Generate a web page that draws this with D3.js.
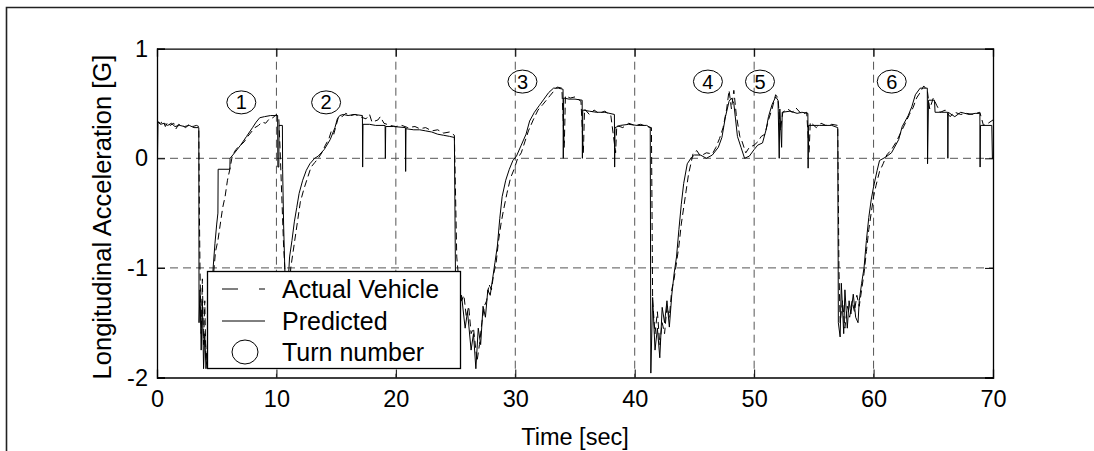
<!DOCTYPE html>
<html><head><meta charset="utf-8">
<script src="https://cdn.jsdelivr.net/npm/d3@7"></script>
<style>body{margin:0;background:#fff}svg text{font-family:"Liberation Sans",Arial,sans-serif;fill:#000}</style>
</head><body><svg id="c" width="1094" height="451"></svg>
<script>
const xTicks=[0,10,20,30,40,50,60,70];
const yTicks=[-2,-1,0,1];
const xGrid=[10,20,30,40,50,60];
const yGrid=[-1,0];
const predicted=[[0,0.38],[0.03,-0.08],[0.08,0.33],[0.3,0.31],[0.6,0.32],[0.9,0.30],[1.2,0.32],[1.5,0.29],[1.9,0.30],[2.3,0.29],[2.7,0.30],[3.1,0.28],[3.5,0.28],[3.52,-1.5],[3.6,-1.2],[3.7,-1.75],[3.8,-1.3],[3.9,-1.92],[4.0,-1.6],[4.1,-1.92],[4.3,-1.7],[4.5,-1.4],[4.7,-1.0],[4.85,-0.78],[5.0,-0.6],[5.1,-0.5],[5.12,-0.1],[6.1,-0.1],[6.12,0.0],[6.5,0.05],[7.0,0.12],[7.5,0.2],[8.0,0.28],[8.3,0.33],[8.6,0.37],[9.0,0.38],[9.5,0.39],[10.1,0.39],[10.12,-0.08],[10.2,-0.08],[10.22,0.3],[10.5,0.3],[10.52,-0.1],[10.6,-0.6],[10.7,-1.0],[10.8,-1.3],[10.9,-1.5],[11.0,-1.1],[11.1,-0.9],[11.3,-0.75],[11.5,-0.58],[11.7,-0.45],[11.9,-0.32],[12.2,-0.2],[12.5,-0.11],[12.8,-0.05],[13.2,0.0],[13.5,0.02],[14.0,0.08],[14.5,0.17],[14.9,0.28],[15.1,0.36],[15.3,0.39],[15.6,0.4],[16.0,0.39],[16.5,0.4],[17.2,0.39],[17.22,-0.08],[17.25,0.31],[17.8,0.31],[18.3,0.3],[19.1,0.3],[19.12,0.0],[19.15,0.29],[19.8,0.29],[20.8,0.28],[20.82,-0.12],[20.85,0.27],[21.5,0.26],[22.0,0.26],[22.5,0.25],[23.0,0.24],[23.5,0.22],[24.0,0.21],[24.5,0.2],[24.9,0.19],[25.0,-1.2],[25.3,-1.4],[25.5,-1.25],[25.8,-1.55],[26.0,-1.4],[26.3,-1.75],[26.5,-1.6],[26.7,-1.92],[26.9,-1.55],[27.1,-1.7],[27.3,-1.35],[27.5,-1.45],[27.7,-1.2],[27.9,-1.25],[28.1,-1.1],[28.3,-0.95],[28.5,-0.8],[28.7,-0.55],[28.9,-0.35],[29.2,-0.2],[29.5,-0.1],[29.8,-0.02],[30.1,0.02],[30.5,0.12],[30.9,0.22],[31.2,0.34],[31.6,0.42],[32.0,0.48],[32.4,0.54],[32.8,0.6],[33.2,0.64],[33.6,0.64],[34.0,0.63],[34.02,0.0],[34.05,0.55],[34.5,0.54],[35.0,0.54],[35.6,0.53],[35.62,0.0],[35.65,0.44],[36.2,0.43],[36.8,0.42],[37.5,0.42],[38.3,0.4],[38.32,-0.08],[38.35,0.28],[38.8,0.3],[39.5,0.31],[40.2,0.3],[41.0,0.3],[41.3,0.28],[41.35,-1.96],[41.5,-1.27],[41.7,-1.75],[41.9,-1.55],[42.1,-1.82],[42.3,-1.36],[42.5,-1.5],[42.7,-1.3],[42.9,-1.54],[43.1,-1.25],[43.3,-1.05],[43.5,-0.9],[43.7,-0.65],[43.9,-0.42],[44.1,-0.23],[44.4,-0.05],[44.7,0.0],[45.0,0.03],[45.5,0.03],[46.0,0.0],[46.5,0.03],[47.0,0.1],[47.3,0.19],[47.6,0.38],[47.9,0.52],[48.1,0.55],[48.3,0.5],[48.6,0.2],[48.9,0.1],[49.2,0.0],[49.6,0.02],[50.0,0.08],[50.3,0.12],[50.7,0.14],[51.0,0.26],[51.2,0.38],[51.5,0.49],[51.8,0.56],[52.0,0.53],[52.1,0.0],[52.15,0.45],[52.3,0.1],[52.35,0.42],[53.0,0.43],[53.6,0.41],[54.0,0.42],[54.5,0.41],[54.52,-0.09],[54.55,0.3],[55.5,0.3],[56.5,0.3],[57.0,0.28],[57.05,-1.5],[57.2,-1.63],[57.3,-1.14],[57.5,-1.6],[57.6,-1.2],[57.8,-1.55],[57.95,-1.3],[58.1,-1.42],[58.3,-1.24],[58.5,-1.45],[58.7,-1.5],[58.8,-1.3],[59.0,-1.14],[59.2,-1.0],[59.4,-0.75],[59.6,-0.54],[59.8,-0.38],[60.0,-0.26],[60.3,-0.11],[60.5,-0.02],[61.0,0.01],[61.5,0.05],[62.1,0.17],[62.4,0.29],[62.9,0.39],[63.2,0.47],[63.5,0.58],[63.9,0.64],[64.2,0.64],[64.5,0.64],[64.52,-0.05],[64.6,0.53],[65.1,0.53],[65.15,0.42],[65.7,0.42],[66.2,0.42],[66.22,0.0],[66.25,0.42],[66.8,0.38],[67.3,0.42],[68.0,0.4],[68.5,0.41],[68.9,0.41],[68.92,-0.08],[68.95,0.3],[69.9,0.3],[69.95,0.0],[70.0,0.0]];
const actual=[[0,0.35],[0.1,0.33],[0.3,0.32],[0.5,0.34],[0.7,0.29],[0.9,0.33],[1.1,0.3],[1.4,0.32],[1.6,0.27],[1.8,0.31],[2.1,0.3],[2.4,0.28],[2.7,0.31],[3.0,0.29],[3.3,0.3],[3.5,0.29],[3.55,-0.5],[3.6,-1.0],[3.7,-1.6],[3.8,-1.1],[3.9,-1.7],[4.0,-1.3],[4.1,-1.85],[4.3,-1.6],[4.5,-1.3],[4.7,-1.1],[4.9,-0.85],[5.1,-0.75],[5.3,-0.6],[5.5,-0.45],[5.7,-0.35],[5.9,-0.2],[6.1,-0.1],[6.3,0.02],[6.6,0.08],[7.0,0.12],[7.3,0.15],[7.6,0.2],[7.9,0.24],[8.2,0.28],[8.5,0.3],[8.8,0.33],[9.1,0.32],[9.4,0.36],[9.7,0.37],[10.0,0.4],[10.2,0.36],[10.3,0.1],[10.45,-0.35],[10.6,-0.8],[10.8,-1.2],[11.0,-1.35],[11.2,-1.0],[11.4,-0.85],[11.6,-0.7],[11.8,-0.55],[12.0,-0.4],[12.3,-0.28],[12.6,-0.18],[12.9,-0.08],[13.2,-0.04],[13.5,0.0],[13.8,0.05],[14.1,0.12],[14.4,0.18],[14.6,0.25],[14.8,0.22],[15.0,0.3],[15.2,0.38],[15.5,0.38],[15.8,0.41],[16.2,0.39],[16.6,0.4],[17.0,0.38],[17.5,0.36],[17.8,0.4],[18.0,0.33],[18.5,0.35],[18.7,0.38],[19.0,0.32],[19.5,0.3],[20.0,0.29],[20.5,0.3],[21.0,0.28],[21.6,0.29],[22.0,0.27],[22.5,0.28],[23.0,0.25],[23.5,0.26],[24.0,0.23],[24.5,0.24],[24.9,0.21],[25.1,-0.9],[25.3,-1.15],[25.5,-1.3],[25.7,-1.25],[25.9,-1.45],[26.1,-1.35],[26.3,-1.6],[26.5,-1.55],[26.8,-1.85],[27.0,-1.7],[27.2,-1.5],[27.4,-1.35],[27.6,-1.3],[27.8,-1.15],[28.0,-1.2],[28.2,-1.05],[28.4,-0.95],[28.6,-0.75],[28.8,-0.6],[29.0,-0.48],[29.3,-0.32],[29.6,-0.18],[29.9,-0.1],[30.2,0.0],[30.5,0.05],[30.8,0.15],[31.1,0.25],[31.5,0.35],[31.9,0.44],[32.3,0.49],[32.6,0.53],[32.9,0.57],[33.2,0.61],[33.5,0.65],[33.9,0.64],[34.1,0.1],[34.2,0.57],[34.6,0.55],[35.0,0.56],[35.5,0.52],[35.7,0.05],[35.8,0.45],[36.2,0.4],[36.6,0.44],[37.0,0.41],[37.5,0.43],[38.0,0.39],[38.4,0.05],[38.5,0.3],[39.0,0.28],[39.5,0.32],[40.0,0.3],[40.5,0.31],[41.0,0.29],[41.4,0.28],[41.5,-1.3],[41.7,-1.6],[41.9,-1.4],[42.1,-1.7],[42.3,-1.5],[42.5,-1.6],[42.7,-1.35],[42.9,-1.45],[43.1,-1.2],[43.3,-1.1],[43.5,-0.95],[43.7,-0.8],[43.9,-0.6],[44.1,-0.45],[44.3,-0.3],[44.5,-0.15],[44.7,-0.05],[44.9,0.05],[45.2,0.07],[45.5,0.02],[46.0,0.05],[46.5,0.04],[46.8,0.1],[47.1,0.18],[47.4,0.28],[47.7,0.45],[47.9,0.62],[48.1,0.45],[48.3,0.62],[48.5,0.4],[48.8,0.2],[49.0,0.15],[49.3,0.05],[49.6,0.1],[50.0,0.12],[50.3,0.15],[50.6,0.2],[50.9,0.22],[51.2,0.35],[51.5,0.45],[51.8,0.58],[52.0,0.55],[52.2,0.25],[52.4,0.42],[52.8,0.45],[53.2,0.42],[53.5,0.46],[54.0,0.4],[54.4,0.42],[54.6,0.05],[54.7,0.33],[55.2,0.28],[55.6,0.32],[56.0,0.3],[56.5,0.31],[57.0,0.3],[57.1,-1.0],[57.2,-1.5],[57.4,-1.3],[57.6,-1.55],[57.8,-1.35],[58.0,-1.45],[58.2,-1.3],[58.4,-1.4],[58.6,-1.25],[58.8,-1.35],[59.0,-1.2],[59.2,-1.05],[59.4,-0.85],[59.6,-0.65],[59.8,-0.5],[60.0,-0.35],[60.2,-0.25],[60.5,-0.12],[60.8,-0.05],[61.1,0.03],[61.5,0.08],[61.9,0.15],[62.3,0.24],[62.7,0.33],[63.0,0.4],[63.3,0.46],[63.6,0.55],[63.9,0.6],[64.2,0.66],[64.5,0.62],[64.7,0.45],[65.0,0.55],[65.3,0.48],[65.6,0.42],[66.0,0.44],[66.4,0.38],[66.8,0.42],[67.3,0.4],[67.8,0.41],[68.3,0.4],[68.9,0.42],[69.2,0.3],[69.6,0.32],[70.0,0.35]];
const turnLabels=["1","2","3","4","5","6"];
const turnTime=[7.06,14.16,30.6,46.13,50.49,61.52];
const turnAccel=[0.51,0.51,0.70,0.70,0.70,0.70];
const legendLabels=["Actual Vehicle","Predicted","Turn number"];

const svg=d3.select("#c");
const L=157,R=993,T=48.7,B=377.5;
const x=d3.scaleLinear().domain([0,70]).range([L,R]);
const y=d3.scaleLinear().domain([-2,1]).range([B,T]);

// outer frame
svg.append("path").attr("d","M6.5,451V7.5H1094").attr("fill","none").attr("stroke","#222").attr("stroke-width",1.6);

svg.append("defs").append("clipPath").attr("id","clip").append("rect")
  .attr("x",L).attr("y",T).attr("width",R-L).attr("height",B-T);

// grid
const g=svg.append("g");
g.selectAll(".gx").data(xGrid).join("line").attr("x1",d=>x(d)).attr("x2",d=>x(d)).attr("y1",T).attr("y2",B)
 .attr("stroke","#555").attr("stroke-dasharray","8,5").attr("stroke-width",1);
g.selectAll(".gy").data(yGrid).join("line").attr("x1",L).attr("x2",R).attr("y1",d=>y(d)).attr("y2",d=>y(d))
 .attr("stroke","#555").attr("stroke-dasharray","8,5").attr("stroke-width",1);

// data lines
const line=d3.line().x(d=>x(d[0])).y(d=>y(d[1]));
const lg=svg.append("g").attr("clip-path","url(#clip)");
lg.append("path").datum(actual).attr("d",line).attr("fill","none").attr("stroke","#000").attr("stroke-width",1).attr("stroke-dasharray","7,4");
lg.append("path").datum(predicted).attr("d",line).attr("fill","none").attr("stroke","#000").attr("stroke-width",1);

// axes (MATLAB style, inward ticks, box)
const fs=23.5;
const fmt=d=>String(d);
const axB=svg.append("g").attr("transform",`translate(0,${B})`).call(d3.axisBottom(x).tickValues(xTicks).tickSize(-8).tickPadding(13).tickFormat(fmt));
const axT=svg.append("g").attr("transform",`translate(0,${T})`).call(d3.axisTop(x).tickValues(xTicks).tickSize(-8).tickFormat(""));
const axL=svg.append("g").attr("transform",`translate(${L},0)`).call(d3.axisLeft(y).tickValues(yTicks).tickSize(-8).tickPadding(9).tickFormat(fmt));
const axR=svg.append("g").attr("transform",`translate(${R},0)`).call(d3.axisRight(y).tickValues(yTicks).tickSize(-8).tickFormat(""));
[axB,axT,axL,axR].forEach(a=>{
  a.select(".domain").attr("stroke","#000").attr("stroke-width",1.3);
  a.selectAll(".tick line").attr("stroke","#000").attr("stroke-width",1);
  a.selectAll("text").attr("font-size",fs).attr("font-family","Liberation Sans, Arial, sans-serif").attr("fill","#000");
});

// axis labels
svg.append("text").attr("x",(L+R)/2).attr("y",445).attr("text-anchor","middle").attr("font-size",23.5).text("Time [sec]");
svg.append("text").attr("transform",`translate(111,${(T+B)/2+4}) rotate(-90)`).attr("text-anchor","middle").attr("font-size",25.5).text("Longitudinal Acceleration [G]");

// turn markers
const tg=svg.append("g");
turnLabels.forEach((lab,i)=>{
  tg.append("ellipse").attr("cx",x(turnTime[i])).attr("cy",y(turnAccel[i])).attr("rx",14.5).attr("ry",11.5).attr("fill","none").attr("stroke","#000").attr("stroke-width",1);
  tg.append("text").attr("x",x(turnTime[i])).attr("y",y(turnAccel[i])+7).attr("text-anchor","middle").attr("font-size",20).text(lab);
});

// legend
const lgd=svg.append("g");
lgd.append("rect").attr("x",207.5).attr("y",271.5).attr("width",253).attr("height",97).attr("fill","#fff").attr("stroke","#000").attr("stroke-width",1.3);
const rows=[289,321,352];
lgd.append("line").attr("x1",222).attr("x2",265).attr("y1",rows[0]).attr("y2",rows[0]).attr("stroke","#000").attr("stroke-dasharray","16,21");
lgd.append("line").attr("x1",222).attr("x2",265).attr("y1",rows[1]).attr("y2",rows[1]).attr("stroke","#000");
lgd.append("ellipse").attr("cx",245).attr("cy",rows[2]).attr("rx",13).attr("ry",12).attr("fill","none").attr("stroke","#000");
legendLabels.forEach((t,i)=>{
  lgd.append("text").attr("x",282).attr("y",rows[i]+8.5).attr("font-size",25).text(t);
});
</script></body></html>
